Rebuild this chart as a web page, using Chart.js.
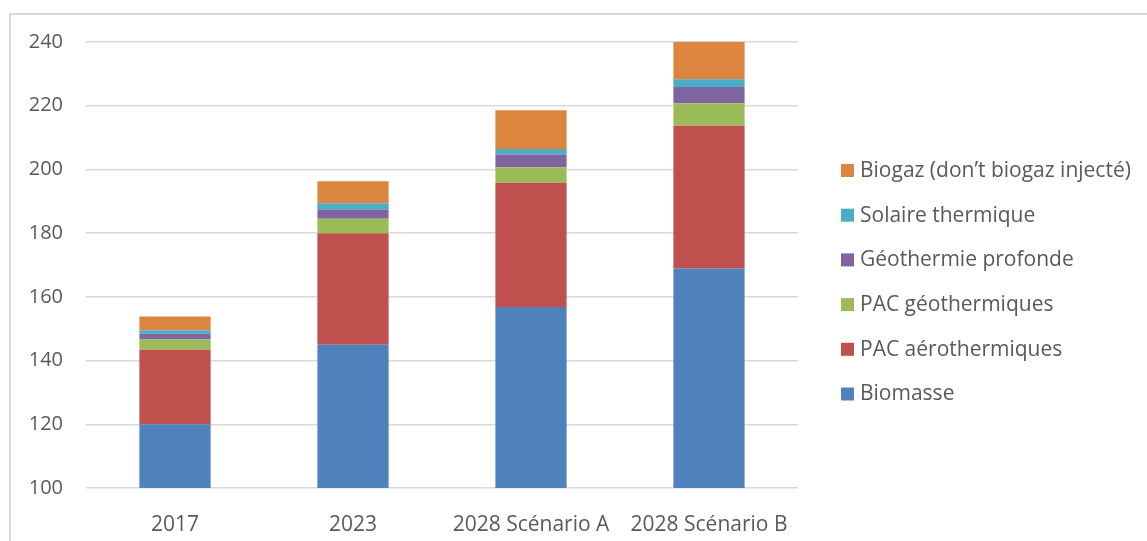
<!DOCTYPE html>
<html>
<head>
<meta charset="utf-8">
<script src="https://cdn.jsdelivr.net/npm/chart.js@4.4.0/dist/chart.umd.min.js"></script>
<style>
    html, body { margin: 0; padding: 0; background: #fff; }
    #wrap { position: relative; width: 1147px; height: 541px; overflow: hidden; }
    #frame { position: absolute; left: 9px; top: 13px; width: 1200px; height: 600px; border-left: 2px solid #d9d9d9; border-top: 2px solid #d9d9d9; }
    #chart { position: absolute; left: 0; top: 0; }
</style>
</head>
<body>
<div id="wrap">
    <div id="frame"></div>
    <canvas id="chart" width="1147" height="541"></canvas>
</div>
<script>
const categories = ['2017', '2023', '2028 Scénario A', '2028 Scénario B'];
const biomasse = [120, 145, 156.8, 168.9];
const pacAero = [23.4, 35, 39, 44.8];
const pacGeo = [3.2, 4.5, 4.9, 7.1];
const geoProfonde = [1.8, 2.9, 4.0, 5.1];
const solaire = [1.1, 2.0, 1.7, 2.4];
const biogaz = [4.3, 6.9, 12.2, 11.7];
const yTicks = [100, 120, 140, 160, 180, 200, 220, 240];

const textColor = '#595959';
const fontFamily = '"Open Sans", Lato, sans-serif';
const fontSize = 21;

// legend drawn by hand, reversed like the original
const sideLegend = {
    id: 'sideLegend',
    afterDraw(chart) {
        const ctx = chart.ctx;
        const sets = chart.data.datasets.slice().reverse();
        ctx.save();
        ctx.font = fontSize + 'px ' + fontFamily;
        ctx.textBaseline = 'middle';
        ctx.textAlign = 'left';
        sets.forEach((ds, i) => {
            const y = 171 + i * 44.7;
            ctx.fillStyle = ds.backgroundColor;
            ctx.fillRect(841, y - 7, 13, 13);
            ctx.fillStyle = textColor;
            ctx.fillText(ds.label, 860, y);
        });
        ctx.restore();
    }
};

function makeSet(label, data, color) {
    return { label: label, data: data, backgroundColor: color, borderWidth: 0 };
}

new Chart(document.getElementById('chart').getContext('2d'), {
    type: 'bar',
    data: {
        labels: categories,
        datasets: [
            makeSet('Biomasse', biomasse, '#4f81bd'),
            makeSet('PAC aérothermiques', pacAero, '#c0504d'),
            makeSet('PAC géothermiques', pacGeo, '#9bbb59'),
            makeSet('Géothermie profonde', geoProfonde, '#8064a2'),
            makeSet('Solaire thermique', solaire, '#4bacc6'),
            makeSet('Biogaz (don\u2019t biogaz injecté)', biogaz, '#dc853e')
        ]
    },
    options: {
        responsive: false,
        animation: false,
        devicePixelRatio: 1,
        layout: {
            padding: { left: 0, right: 349, top: 42, bottom: 0 }
        },
        datasets: {
            bar: { barPercentage: 0.4, categoryPercentage: 1 }
        },
        plugins: {
            legend: { display: false },
            tooltip: { enabled: false }
        },
        scales: {
            x: {
                stacked: true,
                grid: { display: false },
                border: { display: false },
                ticks: {
                    color: textColor,
                    font: { family: fontFamily, size: fontSize },
                    padding: 16,
                    maxRotation: 0
                },
                afterFit(scale) { scale.height = 53; }
            },
            y: {
                stacked: true,
                min: 100,
                max: 240,
                afterBuildTicks(scale) { scale.ticks = yTicks.map(v => ({ value: v })); },
                grid: { color: '#d9d9d9', lineWidth: 1.5, drawTicks: false },
                border: { display: false },
                ticks: {
                    color: textColor,
                    font: { family: fontFamily, size: 20 },
                    padding: 23
                },
                afterFit(scale) { scale.width = 86; }
            }
        }
    },
    plugins: [sideLegend]
});
</script>
</body>
</html>
